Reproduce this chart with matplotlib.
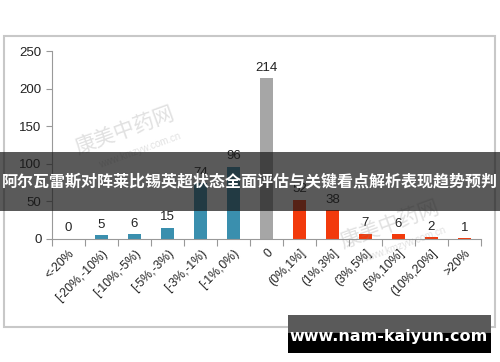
import matplotlib.pyplot as plt
from matplotlib.patches import Rectangle

plt.rcParams['font.family'] = ['Liberation Sans', 'Noto Sans CJK SC', 'DejaVu Sans']

# bins of the distribution and counts
categories = ['<-20%', '[-20%,-10%)', '[-10%,-5%)', '[-5%,-3%)', '[-3%,-1%)', '[-1%,0%)', '0',
              '(0%,1%]', '(1%,3%]', '(3%,5%]', '(5%,10%]', '(10%,20%]', '>20%']
counts = [0, 5, 6, 15, 74, 96, 214, 52, 38, 7, 6, 2, 1]
bar_colors = ['#3a8fae'] * 6 + ['#a6a6a6'] + ['#f23a0c'] * 6
banner_text = '阿尔瓦雷斯对阵莱比锡英超状态全面评估与关键看点解析表现趋势预判'
site_text = 'www.nam-kaiyun.com'

fig = plt.figure(figsize=(5, 3.62), dpi=100)
fig.patch.set_facecolor('white')

# outer chart frame
fig.patches.append(Rectangle((4 / 500, 1 - 327 / 362), 491 / 500, 291 / 362,
                             transform=fig.transFigure, fill=False,
                             edgecolor='#c8c8c8', linewidth=1.5, zorder=0))

ax = fig.add_axes([0.104, 0.34, 0.858, 0.519])
x = list(range(len(categories)))
ax.bar(x, counts, width=0.4, color=bar_colors, zorder=2)
for xi, v in zip(x, counts):
    ax.text(xi, v + 6, str(v), ha='center', va='bottom', fontsize=9.5, color='#222222')

ax.set_xlim(-0.5, len(categories) - 0.5)
ax.set_ylim(0, 250)
ax.set_yticks([0, 50, 100, 150, 200, 250])
ax.tick_params(axis='y', labelsize=9.5, colors='#999999', labelcolor='#222222', length=4)
ax.set_xticks([i - 0.5 for i in range(len(categories) + 1)], minor=False)
ax.set_xticklabels([])
ax.tick_params(axis='x', colors='#999999', length=5)
ax.set_xticks(x, minor=True)
ax.set_xticklabels(categories, minor=True, rotation=45, ha='right',
                   rotation_mode='anchor', fontsize=8.8, color='#222222')
ax.tick_params(axis='x', which='minor', length=0, pad=6)
for s in ['top', 'right']:
    ax.spines[s].set_visible(False)
for s in ['left', 'bottom']:
    ax.spines[s].set_color('#999999')

# faint watermarks
for wx, wy in [(0.25, 0.64), (0.78, 0.38)]:
    fig.text(wx, wy, '康美中药网', fontsize=15, color='#888888', alpha=0.25,
             rotation=20, ha='center', va='center', family=['Noto Sans CJK SC'])
    fig.text(wx + 0.03, wy - 0.055, 'www.kmzyw.com.cn', fontsize=7, color='#888888',
             alpha=0.25, rotation=20, ha='center', va='center')

# dark title banner across the chart
fig.patches.append(Rectangle((0, 1 - 211 / 362), 1, 59 / 362, transform=fig.transFigure,
                             facecolor='#1a1a1a', alpha=0.72, edgecolor='none', zorder=5))
fig.text(0.5, 1 - 181 / 362, banner_text, color='white', fontsize=11.5, fontweight='bold',
         ha='center', va='center', family=['Noto Sans CJK SC', 'DejaVu Sans'], zorder=6)

# site box bottom right
fig.patches.append(Rectangle((288 / 500, 1 - 333 / 362), 203 / 500, 18 / 362,
                             transform=fig.transFigure, facecolor='#5a5a5a',
                             edgecolor='none', zorder=5))
fig.patches.append(Rectangle((288 / 500, 1 - 353 / 362), 203 / 500, 20 / 362,
                             transform=fig.transFigure, facecolor='black',
                             edgecolor='none', zorder=5))
fig.text(389 / 500, 1 - 336 / 362, site_text, color='white', fontsize=11.5,
         fontweight='bold', ha='center', va='center', family=['DejaVu Sans'], zorder=6)

fig.savefig('out.png', dpi=100, facecolor='white')
